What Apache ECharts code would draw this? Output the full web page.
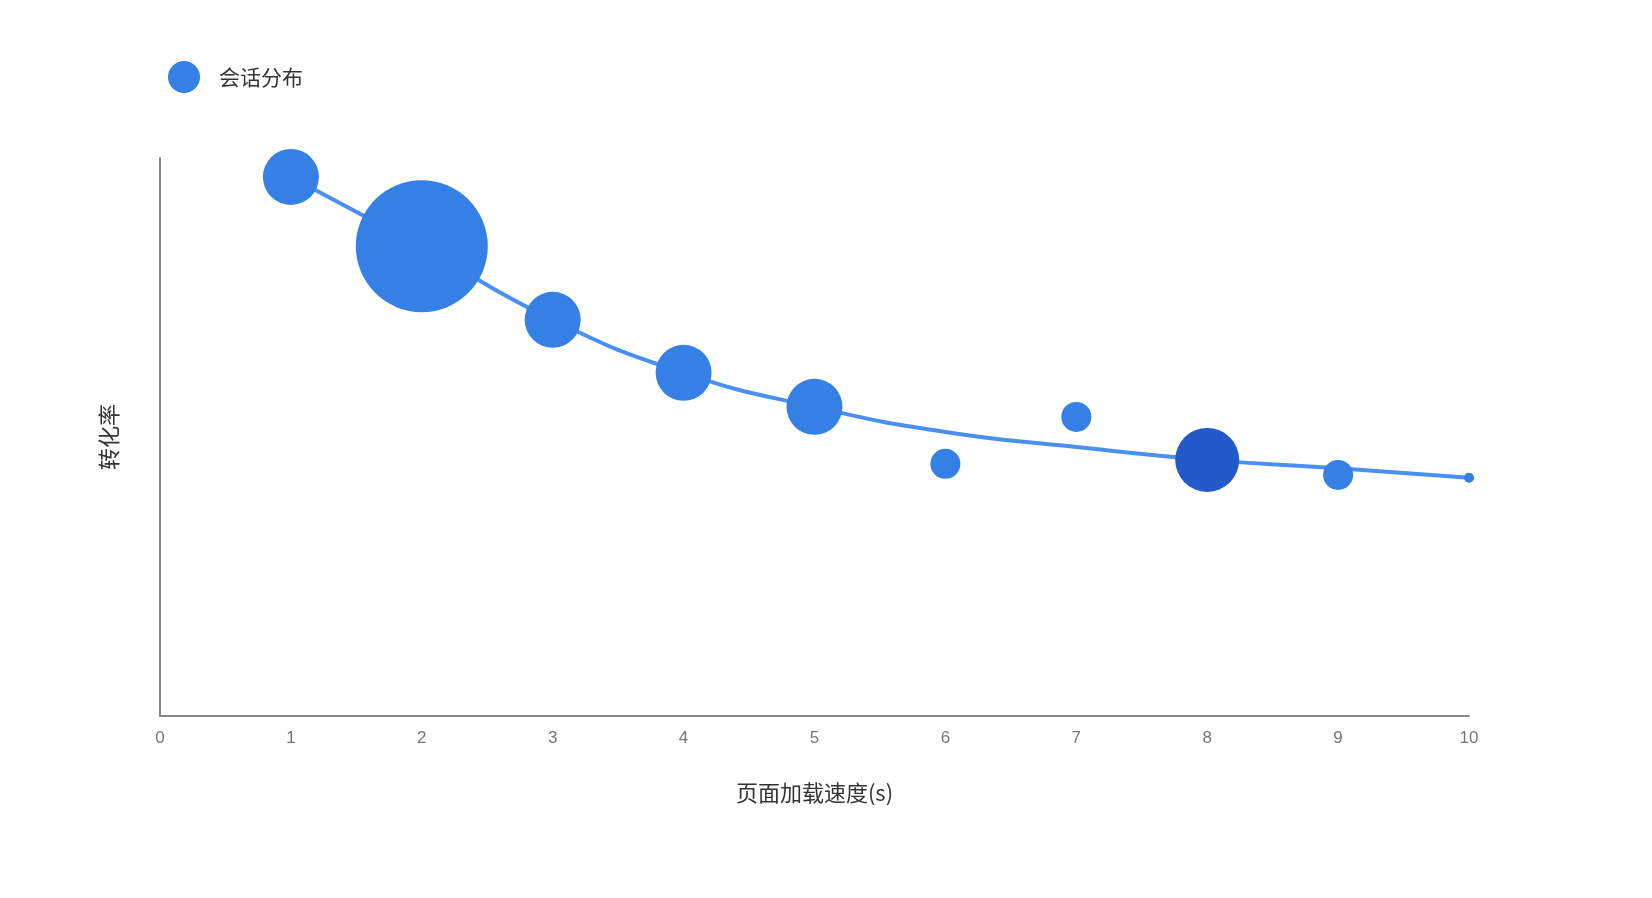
<!DOCTYPE html><html><head><meta charset="utf-8">
<script src="https://cdn.jsdelivr.net/npm/echarts@6/dist/echarts.min.js"></script>
<style>html,body{margin:0;background:#fff}#c{width:1652px;height:898px}</style></head><body><div id="c"></div>
<script>
const xs=[1,2,3,4,5,6,7,8,9,10];
const ys=[96.6,84.2,71,61.5,55.4,45.2,53.6,45.9,43.2,42.7];
const sizes=[56,132,56,56,56,30,30,64,30,10];
const curveX=[1,2,3,4,5,6,7,8,9,10];
const curveY=[96.6,84,71,61.5,55.4,50.9,48.2,45.9,44.4,42.7];
const xTicks=[0,1,2,3,4,5,6,7,8,9,10];
const ch=echarts.init(document.getElementById('c'));
const font='"Noto Sans CJK SC","Noto Sans",sans-serif';
ch.setOption({
 animation:false,
 legend:{data:['会话分布'],left:163,top:56,itemWidth:32,itemHeight:32,icon:'circle',
  textStyle:{fontSize:21,color:'#333',fontFamily:font,padding:[0,0,0,14]}},
 grid:{left:160,right:183,top:158,bottom:182},
 xAxis:{type:'value',min:0,max:10,interval:1,
  name:'页面加载速度(s)',nameLocation:'middle',nameGap:66,nameTextStyle:{fontSize:22,color:'#333',fontFamily:font},
  axisLine:{lineStyle:{color:'#888',width:2}},axisTick:{show:false},splitLine:{show:false},
  axisLabel:{color:'#777',fontSize:17,margin:14,formatter:v=>xTicks.includes(v)?String(v):''}},
 yAxis:{type:'value',min:0,max:100,
  name:'转化率',nameLocation:'middle',nameGap:40,nameTextStyle:{fontSize:22,color:'#333',fontFamily:font},
  axisLine:{show:true,lineStyle:{color:'#888',width:2}},axisTick:{show:false},axisLabel:{show:false},splitLine:{show:false}},
 series:[
  {type:'line',smooth:true,showSymbol:false,data:curveX.map((x,i)=>[x,curveY[i]]),
   lineStyle:{color:'#4a90f0',width:4},z:1,zlevel:0,silent:true},
  {name:'会话分布',type:'scatter',z:5,zlevel:1,
   data:xs.map((x,i)=>({value:[x,ys[i]],symbolSize:sizes[i],itemStyle:{color:x===8?'#2459c9':'#3580e5',opacity:1}})),
   itemStyle:{color:'#3580e5',opacity:1}}
 ]
});
</script></body></html>
